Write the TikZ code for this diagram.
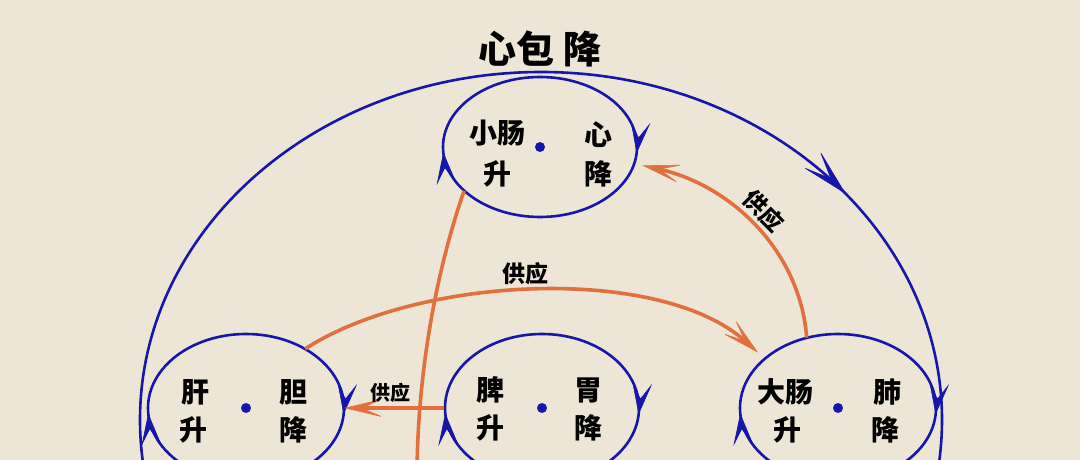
\documentclass[tikz,border=0pt]{standalone}
\usepackage{fontspec}
\newfontfamily\cjk{Noto Sans CJK SC}
\usetikzlibrary{shapes.geometric,arrows.meta,decorations.markings}
\definecolor{bg}{RGB}{237,230,214}
\definecolor{cblue}{RGB}{22,22,172}
\definecolor{corange}{RGB}{226,112,62}
\tikzset{
  bluedart/.tip={Stealth[length=32pt,width=20pt,inset=16pt,line width=0.6pt]},
  bigdart/.tip={Stealth[length=50pt,width=24pt,inset=28pt,line width=0.6pt]},
  orangedart/.tip={Stealth[length=40pt,width=19pt,inset=22pt,line width=0.6pt]},
  ring/.style={draw=cblue, line width=2.6pt, postaction={decorate},
    decoration={markings,
      mark=at position 0.012 with {\arrow{bluedart}},
      mark=at position 0.49 with {\arrow{bluedart}}}},
  organ/.style={ellipse, inner sep=0pt, minimum width=196pt, minimum height=148pt},
  organtop/.style={ellipse, inner sep=0pt, minimum width=194pt, minimum height=140pt},
  dotn/.style={circle, fill=cblue, inner sep=0pt, minimum size=10pt},
  lab/.style={font=\cjk\bfseries\fontsize{28}{30}\selectfont, inner sep=0pt},
  glab/.style={font=\cjk\bfseries\fontsize{23}{25}\selectfont, inner sep=0pt},
  glabs/.style={font=\cjk\bfseries\fontsize{20}{22}\selectfont, inner sep=0pt},
  titlelab/.style={font=\cjk\bfseries\fontsize{38}{40}\selectfont, inner sep=0pt},
  oline/.style={draw=corange, line width=3.6pt},
}
\begin{document}
\begin{tikzpicture}[x=1pt,y=-1pt]
\useasboundingbox (0,0) rectangle (1080,460);
\fill[bg] (0,0) rectangle (1080,460);
\clip (0,0) rectangle (1080,460);

% outer ellipse
\draw[draw=cblue, line width=2.6pt, postaction={decorate},
  decoration={markings, mark=at position 0.893 with {\arrow{bigdart}}}]
  (541,420) ellipse [x radius=401, y radius=348];

% organ rings
\draw[ring] (540,147) ellipse [x radius=97, y radius=70];
\draw[ring] (246,408) ellipse [x radius=98, y radius=74];
\draw[ring] (542,408) ellipse [x radius=97, y radius=74];
\draw[ring] (838,408) ellipse [x radius=98, y radius=74];

\node[organtop] (xc) at (540,147) {};
\node[organ] (liver) at (246,408) {};
\node[organ] (spleen) at (542,408) {};
\node[organ] (lint) at (838,408) {};

\node[dotn] (d1) at (xc.center) {};
\node[dotn] (d2) at (liver.center) {};
\node[dotn] (d3) at (spleen.center) {};
\node[dotn] (d4) at (lint.center) {};

% texts
\node[titlelab] (title) at (540,49) {心包\hspace{10pt}降};

\node[lab] (a1) at (497,133) {小肠};
\node[lab] (a2) at (497,174) {升};
\node[lab] (a3) at (598,135) {心};
\node[lab] (a4) at (598,174) {降};

\node[lab] (b1) at (195,392) {肝};
\node[lab] (b2) at (193,430) {升};
\node[lab] (b3) at (293,392) {胆};
\node[lab] (b4) at (293,430) {降};

\node[lab] (c1) at (490,390) {脾};
\node[lab] (c2) at (490,428) {升};
\node[lab] (c3) at (588,390) {胃};
\node[lab] (c4) at (588,428) {降};

\node[lab] (e1) at (785,392) {大肠};
\node[lab] (e2) at (787,430) {升};
\node[lab] (e3) at (887,392) {肺};
\node[lab] (e4) at (885,430) {降};

% orange connectors
\coordinate (vend) at (417,472);
\draw[oline] (xc.210) .. controls (440,260) and (418,360) .. (vend);
\draw[oline, -{orangedart}, shorten >=9pt] (liver.45) .. controls (420,275) and (660,265) .. (lint.146);
\draw[oline, -{orangedart}, shorten >=8pt] (lint.114) .. controls (800,250) and (730,185) .. (xc.-10);
\draw[oline, -{orangedart}] (spleen.west) -- (liver.east);

\node[glab] (g1) at (525,274) {供应};
\node[glab, rotate=-45] (g2) at (764,211) {供应};
\node[glabs] (g3) at (390,393) {供应};
\end{tikzpicture}
\end{document}
